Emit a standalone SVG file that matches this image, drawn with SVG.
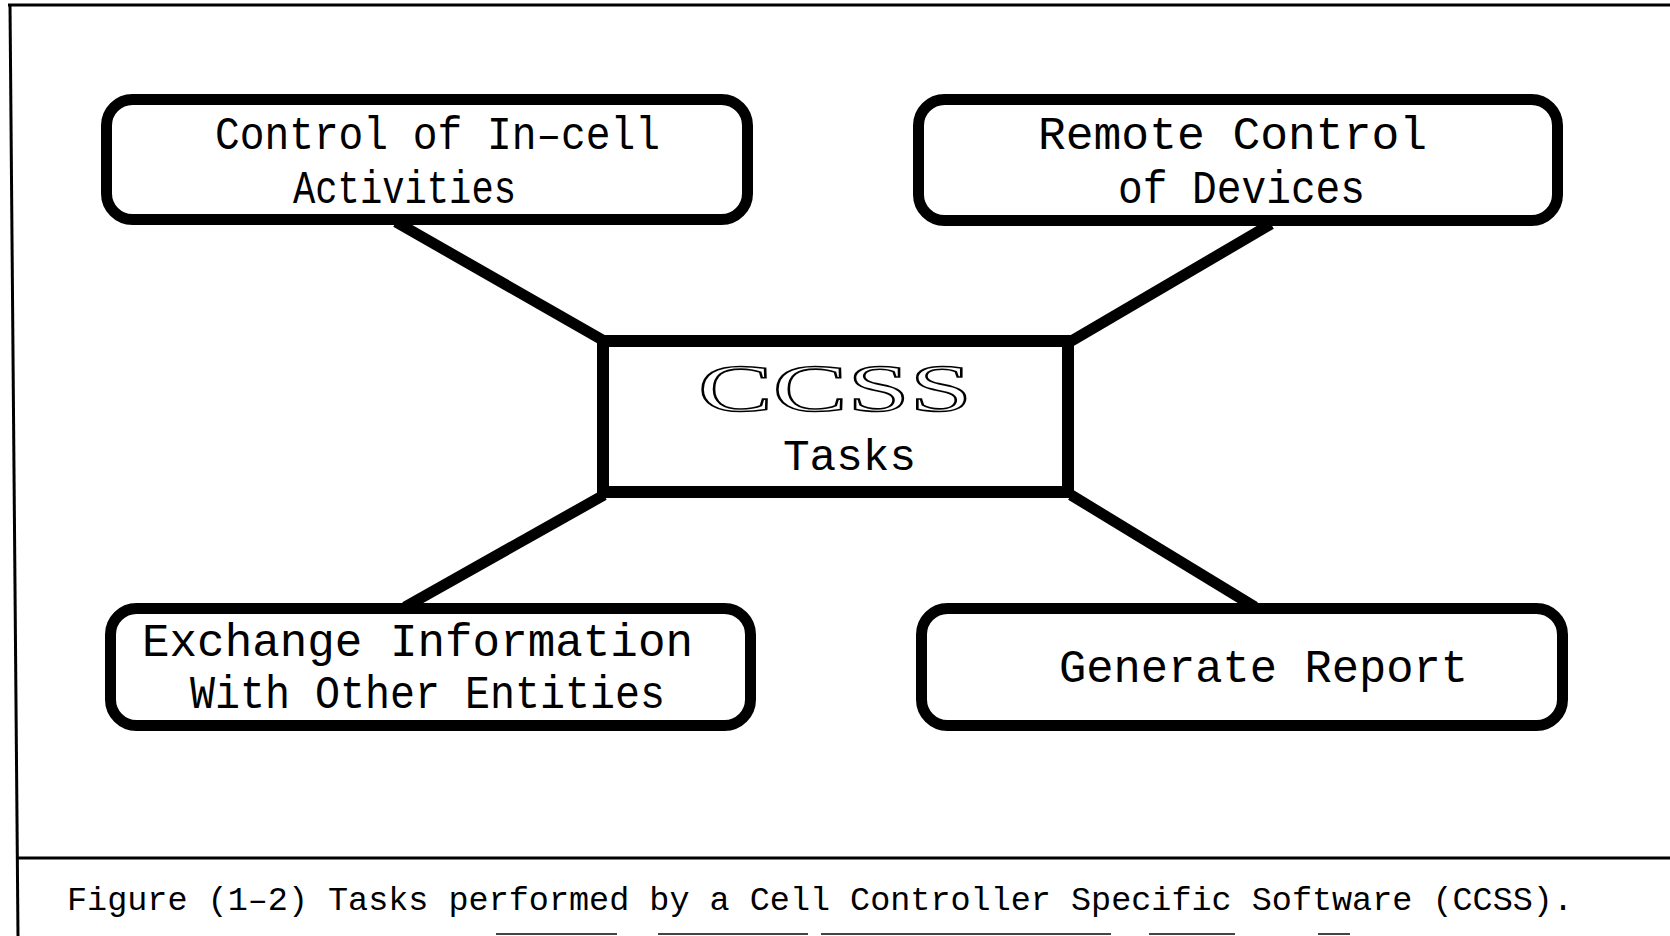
<svg xmlns="http://www.w3.org/2000/svg" width="1670" height="936" viewBox="0 0 1670 936">
<style>
.box{fill:#fff;stroke:#000;stroke-width:11}
.conn{stroke:#000;stroke-width:11;stroke-linecap:butt}
.lbl{font-family:"Liberation Mono","DejaVu Sans Mono",monospace;font-size:47px;fill:#000}
.frame{stroke:#000;stroke-width:3;fill:none}
.cap{font-family:"Liberation Mono","DejaVu Sans Mono",monospace;font-size:34px;fill:#000}
.scan{stroke:#444;stroke-width:2}
</style>
<rect width="1670" height="936" fill="#fff"/>
<g id="frame">
<line class="frame" x1="8" y1="5" x2="1670" y2="5"/>
<line class="frame" x1="10" y1="4" x2="18" y2="936"/>
<line class="frame" x1="17" y1="858" x2="1670" y2="858"/>
<line class="scan" x1="496" y1="934" x2="617" y2="934"/>
<line class="scan" x1="658" y1="934" x2="808" y2="934"/>
<line class="scan" x1="821" y1="934" x2="1111" y2="934"/>
<line class="scan" x1="1149" y1="934" x2="1235" y2="934"/>
<line class="scan" x1="1318" y1="934" x2="1350" y2="934"/>
</g>
<g id="connectors">
<line class="conn" x1="396" y1="222" x2="606" y2="342"/>
<line class="conn" x1="1271" y1="224" x2="1068" y2="343"/>
<line class="conn" x1="405" y1="607" x2="604" y2="495"/>
<line class="conn" x1="1255" y1="607" x2="1071" y2="495"/>
</g>
<g id="node-control">
<rect class="box" x="106.5" y="99.5" width="641" height="120" rx="26"/>
<text class="lbl" x="215" y="149" textLength="445" lengthAdjust="spacingAndGlyphs">Control of In–cell</text>
<text class="lbl" x="293" y="203" textLength="223" lengthAdjust="spacingAndGlyphs">Activities</text>
</g>
<g id="node-remote">
<rect class="box" x="918.5" y="99.5" width="639" height="121" rx="26"/>
<text class="lbl" x="1038" y="149" textLength="389" lengthAdjust="spacingAndGlyphs">Remote Control</text>
<text class="lbl" x="1118" y="203" textLength="247" lengthAdjust="spacingAndGlyphs">of Devices</text>
</g>
<g id="node-ccss">
<rect class="box" x="603" y="341" width="465" height="151" style="stroke-width:12"/>
<text x="698" y="411" textLength="274" lengthAdjust="spacingAndGlyphs" style="font-family:'Liberation Serif','DejaVu Serif',serif;font-size:68px;fill:#fff;stroke:#000;stroke-width:1.6">CCSS</text>
<text class="lbl" x="783" y="470" textLength="133" lengthAdjust="spacingAndGlyphs" style="font-size:44px">Tasks</text>
</g>
<g id="node-exchange">
<rect class="box" x="110.5" y="608.5" width="640" height="117" rx="26"/>
<text class="lbl" x="142" y="656" textLength="551" lengthAdjust="spacingAndGlyphs">Exchange Information</text>
<text class="lbl" x="190" y="708" textLength="475" lengthAdjust="spacingAndGlyphs">With Other Entities</text>
</g>
<g id="node-report">
<rect class="box" x="921.5" y="608.5" width="641" height="117" rx="26"/>
<text class="lbl" x="1059" y="682" textLength="409" lengthAdjust="spacingAndGlyphs">Generate Report</text>
</g>
<g id="caption">
<text class="cap" x="67" y="910" textLength="1506" lengthAdjust="spacingAndGlyphs">Figure (1–2) Tasks performed by a Cell Controller Specific Software (CCSS).</text>
</g>
</svg>
